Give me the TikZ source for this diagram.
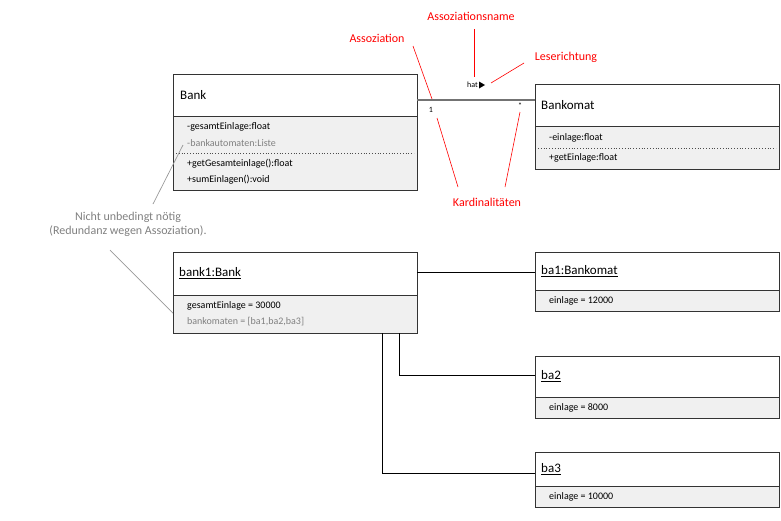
\documentclass[tikz,border=0pt]{standalone}
\usepackage{fontspec}
\setmainfont{Carlito}
\begin{document}
\begin{tikzpicture}[x=1pt,y=-1pt,
  box/.style={draw=black!80,line width=0.8pt},
  low/.style={draw=black!80,fill=black!6,line width=0.8pt},
  sm/.style={font=\fontsize{10}{12}\selectfont,anchor=west,inner sep=0},
  ttl/.style={font=\fontsize{13}{15}\selectfont,anchor=west,inner sep=0},
  red/.style={text=red,font=\fontsize{12}{14}\selectfont,inner sep=0},
  rl/.style={draw=red,line width=0.6pt},
  gl/.style={draw=black!40,line width=0.7pt},
  lk/.style={draw=black,line width=0.8pt}]
\useasboundingbox (0,0) rectangle (781,520);
% Bank
\draw[box,fill=white] (173,74) rectangle (417,116);
\draw[low] (173,116) rectangle (417,190);
\draw[black!70,dotted,line width=0.8pt] (176,153) -- (414,153);
\node[ttl] (bank) at (180,95) {Bank};
\node[sm] at (187,127) {-gesamtEinlage:float};
\node[sm,text=black!50] (ba) at (187,143) {-bankautomaten:Liste};
\node[sm] at (187,164) {+getGesamteinlage():float};
\node[sm] at (187,180) {+sumEinlagen():void};
% Bankomat
\draw[box,fill=white] (535,84) rectangle (779,126);
\draw[low] (535,126) rectangle (779,169);
\draw[black!70,dotted,line width=0.8pt] (538,148) -- (776,148);
\node[ttl] (bkm) at (541,105) {Bankomat};
\node[sm] at (549,138) {-einlage:float};
\node[sm] at (549,158) {+getEinlage:float};
% association
\coordinate (a1) at (417,100); \coordinate (a2) at (535,100);
\draw[black!55,line width=1.2pt] (a1) -- (a2);
\node[font=\fontsize{8}{9}\selectfont,inner sep=0] (one) at (431,110) {1};
\node[font=\fontsize{8}{9}\selectfont,inner sep=0] (star) at (520,106) {*};
\node[font=\fontsize{8}{9}\selectfont,inner sep=0,anchor=east] (hat) at (478,85) {hat};
\fill (479,81.5) -- (485,85) -- (479,88.5) -- cycle;
% red labels
\node[red] (lname) at (471,16) {Assoziationsname};
\node[red] (lass) at (377,38) {Assoziation};
\node[red] (lles) at (566,57) {Leserichtung};
\node[red] (lkar) at (487,202) {Kardinalitäten};
\draw[rl] (413,46) -- (432,99);
\draw[rl] (474,29) -- (474,77);
\draw[rl] (524,63) -- (491,83);
\draw[rl] (437,118) -- (458,187);
\draw[rl] (520,112) -- (505,187);
% note
\node[font=\fontsize{12}{14}\selectfont,text=black!50,align=center,inner sep=0] (note) at (128,224) {Nicht unbedingt nötig\\(Redundanz wegen Assoziation).};
\draw[gl] (153,204) -- (183,145);
\draw[gl] (110,250) -- (183,323);
% bank1
\draw[box,fill=white] (173,252) rectangle (417,295);
\draw[low] (173,295) rectangle (417,333);
\node[ttl] (b1) at (179,273) {\underline{bank1:Bank}};
\node[sm] at (187,306) {gesamtEinlage = 30000};
\node[sm,text=black!50] at (187,322) {bankomaten = [ba1,ba2,ba3]};
% ba1..3
\foreach \n/\t/\b/\v in {ba1:Bankomat/252/290/12000, ba2/356/397/8000, ba3/452/486/10000}{
  \draw[box,fill=white] (535,\t) rectangle (779,\b);
  \draw[low] (535,\b) rectangle (779,\b+21);
  \node[ttl] at (541,{(\t+\b)/2}) {\underline{\n}};
  \node[sm] at (549,\b+11) {einlage = \v};
}
\draw[lk] (417,272) -- (535,272);
\draw[lk] (399,333) |- (535,375);
\draw[lk] (382,333) |- (535,473);
\end{tikzpicture}
\end{document}
